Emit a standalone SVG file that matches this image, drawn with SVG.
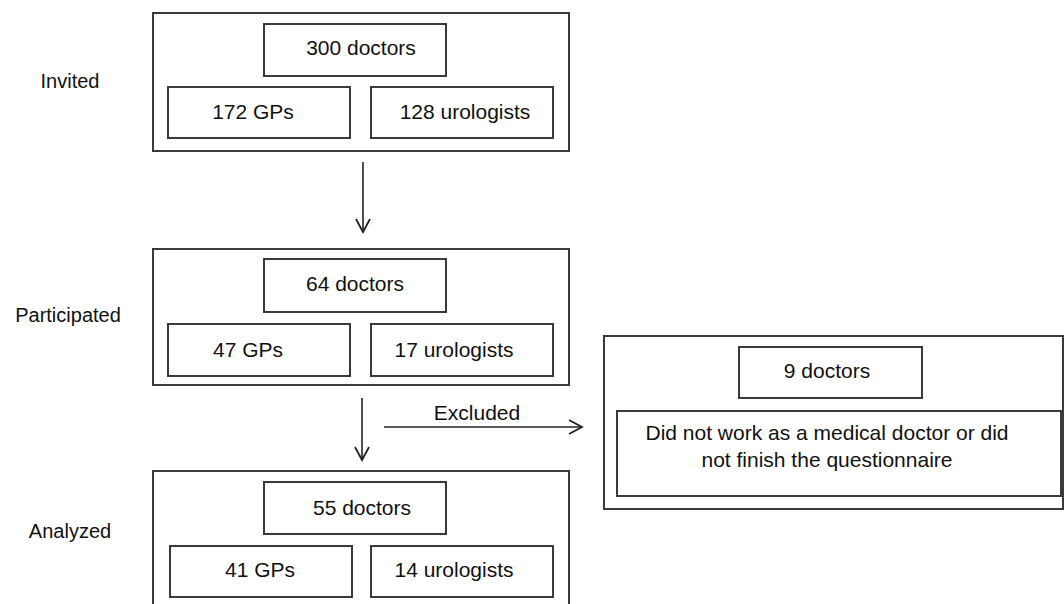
<svg xmlns="http://www.w3.org/2000/svg" width="1064" height="604" viewBox="0 0 1064 604">
<defs>
<style>
.outer{fill:#fff;stroke:#3a3a3a;stroke-width:2}
.inner{fill:#fff;stroke:#3a3a3a;stroke-width:2}
.t{font-family:"Liberation Sans",Arial,sans-serif;font-size:21px;fill:#111;text-anchor:middle}
.lbl{font-family:"Liberation Sans",Arial,sans-serif;font-size:20px;fill:#111;text-anchor:middle}
.conn{stroke:#222;stroke-width:1.6;fill:none}
</style>
<marker id="ah" markerUnits="userSpaceOnUse" markerWidth="20" markerHeight="20" refX="14" refY="8" orient="auto" viewBox="0 0 20 16">
<path d="M1,1 L14,8 L1,15" fill="none" stroke="#222" stroke-width="1.8"/>
</marker>
</defs>
<rect width="1064" height="604" fill="#fff"/>

<g id="label-invited"><text class="lbl" x="70" y="88">Invited</text></g>
<g id="label-participated"><text class="lbl" x="68" y="322">Participated</text></g>
<g id="label-analyzed"><text class="lbl" x="70" y="538">Analyzed</text></g>

<g id="invited">
<rect class="outer" x="153" y="13" width="416" height="138"/>
<rect class="inner" x="264" y="24" width="182" height="52"/>
<text class="t" x="361" y="55">300 doctors</text>
<rect class="inner" x="168" y="87" width="182" height="51"/>
<text class="t" x="253" y="119">172 GPs</text>
<rect class="inner" x="371" y="87" width="182" height="51"/>
<text class="t" x="465" y="119">128 urologists</text>
</g>

<g id="participated">
<rect class="outer" x="153" y="249" width="416" height="136"/>
<rect class="inner" x="264" y="259" width="182" height="53"/>
<text class="t" x="355" y="291">64 doctors</text>
<rect class="inner" x="168" y="324" width="182" height="52"/>
<text class="t" x="248" y="357">47 GPs</text>
<rect class="inner" x="371" y="324" width="182" height="52"/>
<text class="t" x="454" y="357">17 urologists</text>
</g>

<g id="analyzed">
<rect class="outer" x="153" y="471" width="416" height="140"/>
<rect class="inner" x="264" y="482" width="182" height="52"/>
<text class="t" x="362" y="515">55 doctors</text>
<rect class="inner" x="170" y="546" width="182" height="51"/>
<text class="t" x="260" y="577">41 GPs</text>
<rect class="inner" x="371" y="546" width="182" height="51"/>
<text class="t" x="454" y="577">14 urologists</text>
</g>

<g id="excluded">
<rect class="outer" x="604" y="336" width="459" height="173"/>
<rect class="inner" x="739" y="347" width="183" height="51"/>
<text class="t" x="827" y="378">9 doctors</text>
<rect class="inner" x="617" y="411" width="444" height="85"/>
<text class="t" x="827" y="440">Did not work as a medical doctor or did</text>
<text class="t" x="827" y="467">not finish the questionnaire</text>
</g>

<g id="connectors">
<line class="conn" x1="363" y1="162" x2="363" y2="232" marker-end="url(#ah)"/>
<line class="conn" x1="362" y1="398" x2="362" y2="460" marker-end="url(#ah)"/>
<line class="conn" x1="384" y1="427" x2="582" y2="427" marker-end="url(#ah)"/>
<text class="t" x="477" y="420">Excluded</text>
</g>
</svg>
